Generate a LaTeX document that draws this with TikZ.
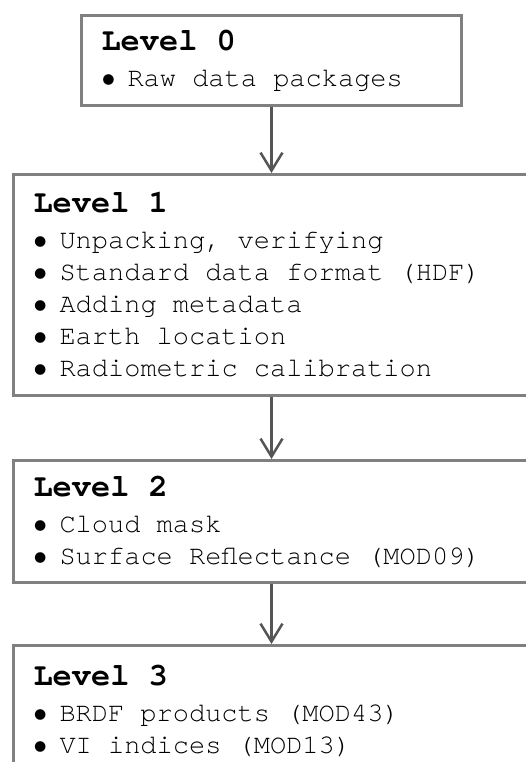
\documentclass[tikz,border=0pt]{standalone}
\usepackage{fontspec}
\setmainfont{TeX Gyre Cursor}
\usetikzlibrary{arrows.meta}
\definecolor{boxgray}{RGB}{128,128,128}
\definecolor{arrowgray}{RGB}{85,85,85}
\tikzset{
  levelbox/.style={draw=boxgray,line width=3pt,fill=white,anchor=north west,
    align=left,inner xsep=20pt,inner ysep=0pt,font=\fontsize{27}{32}\selectfont},
  flow/.style={draw=arrowgray,line width=2.5pt,-{Straight Barb[length=18pt,width=22pt]}}
}
% align=left shrinks spaces, so give the mono font its own space back
\newcommand{\lvltitle}[1]{\spaceskip=0pt\relax{\fontsize{32}{32}\selectfont\bfseries #1}\\[4pt]}
\newcommand{\itm}{\makebox[26pt][l]{\hspace{-2pt}\scalebox{1.1}{\bfseries\textbullet}}}
\begin{document}
\begin{tikzpicture}[x=1pt,y=-1pt]
        \useasboundingbox (0,0) rectangle (526,762);
        % levels
        \node [levelbox,text width=340pt,minimum height=90pt] (l0) at (80,14)
          {\lvltitle{Level 0}\itm Raw data packages};
        \node [levelbox,text width=520pt,minimum height=221pt] (l1) at (12,173)
          {\lvltitle{Level 1}\itm Unpacking, verifying\\ \itm Standard data format (HDF)\\
           \itm Adding metadata\\ \itm Earth location\\ \itm Radiometric calibration};
        \node [levelbox,text width=520pt,minimum height=122pt] (l2) at (12,459)
          {\lvltitle{Level 2}\itm Cloud mask\\ \itm Surface Reflectance (MOD09)};
        \node [levelbox,text width=520pt,minimum height=130pt] (l3) at (12,644)
          {\lvltitle{Level 3}\itm BRDF products (MOD43)\\ \itm VI indices (MOD13)};
        % arrows
        \draw [flow] (l0.south) -- (l0.south |- l1.north);
        \draw [flow] (l0.south |- l1.south) -- (l0.south |- l2.north);
        \draw [flow] (l0.south |- l2.south) -- (l0.south |- l3.north);
\end{tikzpicture}
\end{document}
